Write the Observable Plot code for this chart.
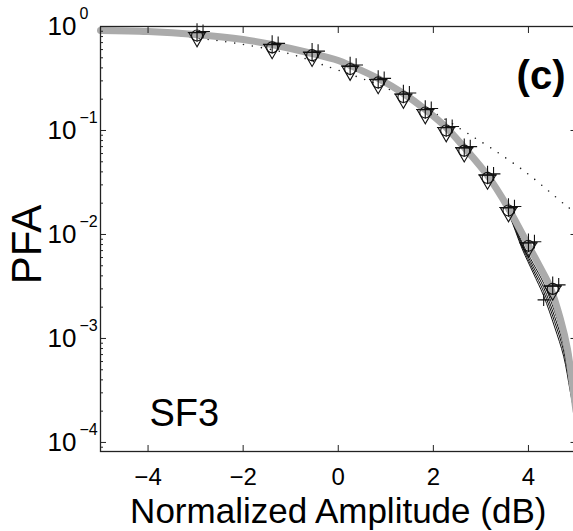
<!DOCTYPE html>
<html><head><meta charset="utf-8">
<script src="https://cdn.jsdelivr.net/npm/d3@7"></script>
<script src="https://cdn.jsdelivr.net/npm/@observablehq/plot@0.6"></script>
<style>html,body{margin:0;padding:0;overflow:hidden;background:#fff;}</style>
</head><body><div id="chart"></div>
<script>
// Thick grey curve
const ampGrey = [-5,-4,-3,-2,-1.4,-0.55,0,0.25,0.84,1.37,1.83,2.27,2.65,3.14,3.58,4.0,4.25,4.46,4.67,4.82,4.93,5.0];
const pfaGrey = [0.916,0.895,0.838,0.75,0.671,0.55,0.471,0.422,0.316,0.227,0.159,0.107,0.0687,0.0369,0.0178,0.00783,0.00479,0.00309,0.00155,0.000794,0.000347,0.0002];
// Thin black curves
const ampFit = [-5,-4,-3,-2,-1.4,-0.55,0,0.25,0.84,1.37,1.83,2.27,2.65,3.14,3.58,3.87,4.1,4.32,4.55,4.74,4.88,5.0];
const pfaFit1 = [0.916,0.893,0.835,0.748,0.668,0.548,0.468,0.42,0.314,0.225,0.157,0.105,0.067,0.036,0.0170,0.00832,0.00525,0.00339,0.00182,0.000955,0.000437,0.00024];
const pfaFit2 = [0.916,0.894,0.836,0.749,0.669,0.549,0.469,0.421,0.315,0.226,0.158,0.106,0.068,0.0362,0.0166,0.00794,0.0049,0.00309,0.00162,0.000851,0.000389,0.000209];
const pfaFit3 = [0.916,0.895,0.837,0.75,0.67,0.55,0.47,0.422,0.316,0.227,0.159,0.107,0.0685,0.0366,0.0162,0.00759,0.00457,0.00282,0.00145,0.000759,0.000347,0.000182];
const pfaFit4 = [0.916,0.892,0.834,0.747,0.667,0.547,0.467,0.419,0.313,0.224,0.156,0.104,0.0665,0.0355,0.0158,0.00724,0.00427,0.00257,0.00129,0.000676,0.000309,0.000158];
// Dotted curve
const ampDotted = [-5,-4,-3,-2.13,-1.05,-0.17,0.5,1.0,1.73,2.19,2.69,3.26,3.92,4.46,4.84,5];
const pfaDotted = [0.916,0.87,0.776,0.687,0.55,0.404,0.316,0.257,0.174,0.133,0.0957,0.0656,0.0404,0.0254,0.0182,0.0162];
// Measured points (markers)
const ampMarkers = [-2.97,-1.39,-0.55,0.25,0.84,1.37,1.83,2.27,2.65,3.14,3.58,4.0,4.51];
const pfaMarkers = [0.82,0.63,0.53,0.39,0.29,0.21,0.149,0.10,0.064,0.035,0.017,0.0078,0.003];
const ampExtra = [4.32];
const pfaExtra = [0.00235];
// Ticks
const xTicks = [-4,-2,0,2,4];
const xTickLabels = ["\u22124","\u22122","0","2","4"];
const yMajor = [1,0.1,0.01,0.001,0.0001];
const yExp = ["0","\u22121","\u22122","\u22123","\u22124"];
const yMinor = [];
for (const d of [1e-5,1e-4,1e-3,1e-2,1e-1]) for (let k = 2; k <= 9; k++) { const v = k*d; if (v > 8.2e-5 && v < 1) yMinor.push(+v.toPrecision(3)); }

const toRows = (xs, ys) => xs.map((x, i) => ({x, y: ys[i]}));
const grey = toRows(ampGrey, pfaGrey);
const fits = [pfaFit1, pfaFit2, pfaFit3, pfaFit4].map(a => toRows(ampFit, a));
const dotted = toRows(ampDotted, pfaDotted);
const markers = toRows(ampMarkers, pfaMarkers);
const extra = toRows(ampExtra, pfaExtra);

const font = "Liberation Sans, Arial, Helvetica, sans-serif";
const mk = {x: "x", y: "y", stroke: "#111", strokeWidth: 1.1};
const chart = Plot.plot({
  width: 573, height: 531,
  marginLeft: 100, marginTop: 26, marginBottom: 80, marginRight: -2.5,
  style: {fontFamily: font, background: "white", overflow: "hidden", color: "black"},
  x: {domain: [-5, 5]},
  y: {type: "log", domain: [Math.pow(10, -4.087), 1]},
  marks: [
    Plot.line(dotted, {x: "x", y: "y", stroke: "#222", strokeWidth: 1.6, strokeDasharray: "0,9", strokeLinecap: "round", curve: "catmull-rom"}),
    ...fits.map(f => Plot.line(f, {x: "x", y: "y", stroke: "#111", strokeWidth: 1, curve: "catmull-rom"})),
    Plot.line(grey, {x: "x", y: "y", stroke: "#ababab", strokeWidth: 7, curve: "catmull-rom"}),
    Plot.dot(markers, {...mk, r: 5.5}),
    Plot.dot(markers, {...mk, symbol: "triangle", rotate: 180, r: 6, dy: 2}),
    Plot.dot(markers, {...mk, symbol: "plus", r: 6, dy: -3}),
    Plot.dot(markers, {...mk, symbol: "plus", r: 4.5, dx: 6, dy: -4}),
    Plot.dot(extra, {...mk, symbol: "plus", r: 4}),
    Plot.frame({stroke: "#222", strokeWidth: 1.3}),
    Plot.axisX(xTicks, {anchor: "bottom", tickSize: -6, tickFormat: () => "", label: null, stroke: "#222"}),
    Plot.axisX(xTicks, {anchor: "top", tickSize: -6, tickFormat: () => "", label: null, stroke: "#222"}),
    Plot.axisY(yMajor, {anchor: "left", tickSize: -6, tickFormat: () => "", label: null, stroke: "#222"}),
    Plot.axisY(yMajor, {anchor: "right", tickSize: -6, tickFormat: () => "", label: null, stroke: "#222"}),
    Plot.axisY(yMinor, {anchor: "left", tickSize: -3, tickFormat: () => "", label: null, stroke: "#222"}),
    Plot.axisY(yMinor, {anchor: "right", tickSize: -3, tickFormat: () => "", label: null, stroke: "#222"}),
    Plot.text(xTicks, {x: d => d, text: (d, i) => xTickLabels[i], frameAnchor: "bottom", dy: 26, fontSize: 24, lineAnchor: "middle", textAnchor: "middle"}),
    Plot.text(yMajor, {y: d => d, text: () => "10", frameAnchor: "left", dx: -53, textAnchor: "start", fontSize: 26, lineAnchor: "middle"}),
    Plot.text(yMajor, {y: d => d, text: (d, i) => yExp[i], frameAnchor: "left", dx: -21, dy: -13, textAnchor: "start", fontSize: 16, lineAnchor: "middle"}),
    Plot.text(["PFA"], {frameAnchor: "left", dx: -73, dy: 5.5, rotate: -90, fontSize: 42, lineAnchor: "middle", textAnchor: "middle"}),
    Plot.text(["Normalized Amplitude (dB)"], {frameAnchor: "bottom", dy: 60, fontSize: 35, lineAnchor: "middle", textAnchor: "middle"}),
    Plot.text(["(c)"], {frameAnchor: "top-right", dx: -10.5, dy: 50, textAnchor: "end", fontSize: 40, fontWeight: "bold", lineAnchor: "middle"}),
    Plot.text(["SF3"], {frameAnchor: "bottom-left", dx: 49, dy: -38, textAnchor: "start", fontSize: 38, lineAnchor: "middle"})
  ]
});
document.getElementById("chart").appendChild(chart);
</script>
</body></html>
